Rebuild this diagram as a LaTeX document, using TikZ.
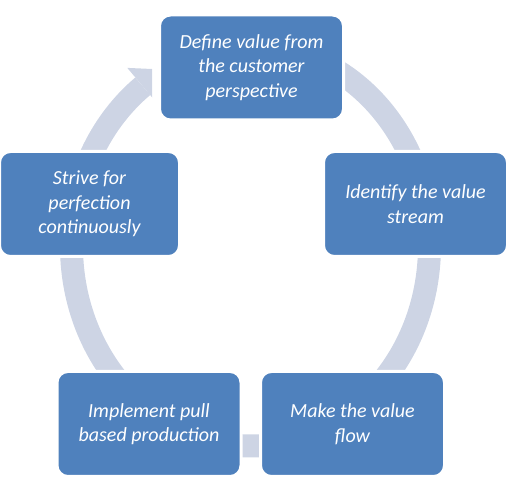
\documentclass[tikz,border=0pt]{standalone}
\usepackage{fontspec}
\setmainfont{Carlito}
\definecolor{boxblue}{RGB}{79,129,189}
\definecolor{ringgray}{RGB}{205,212,228}
\begin{document}
\begin{tikzpicture}[x=1pt,y=1pt,
  stepbox/.style={rounded corners=11pt, fill=boxblue, draw=white, line width=3pt,
    minimum width=184pt, minimum height=105pt, text=white, align=center,
    font=\fontsize{20}{24.5}\selectfont\itshape, inner sep=0pt},
  ring/.style={ringgray, line width=23pt}]
\useasboundingbox (0,0) rectangle (507,489);
\coordinate (ctr) at (250.5,243);
% cycle ring
\draw[ring] ([shift={(85:179 and 200)}]ctr) arc[start angle=85, end angle=-233, x radius=179, y radius=200];
\begin{scope}
  \clip (0,300) rectangle (152,489);
  \fill[ringgray] (127.3,421.1) -- (162.7,419.5) -- (158.2,384.4) -- cycle;
\end{scope}
% steps
\node[stepbox] (define) at (251.5,421.5) {Define value from\\the customer\\perspective};
\node[stepbox] (identify) at (415.5,285) {Identify the value\\stream};
\node[stepbox] (flow) at (352.5,65) {Make the value\\flow};
\node[stepbox] (pull) at (149,65) {Implement pull\\based production};
\node[stepbox, minimum width=180pt] (strive) at (89.5,285) {Strive for\\perfection\\continuously};
\end{tikzpicture}
\end{document}
